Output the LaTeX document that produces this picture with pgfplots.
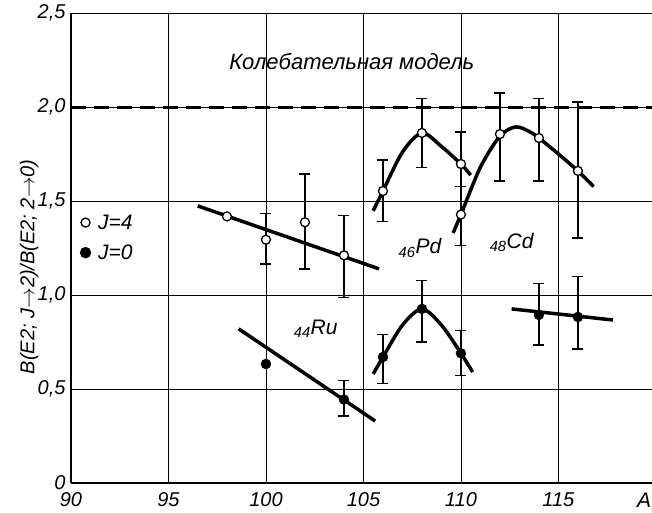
\documentclass[border=0pt]{standalone}
\usepackage{pgfplots}
\pgfplotsset{compat=1.18}
\usepackage{fontspec}
\setmainfont{Liberation Sans}

\pgfplotstableread{
x y up down
100 1.294 0.139 0.129
102 1.387 0.257 0.248
104 1.211 0.212 0.226
106 1.553 0.165 0.161
108 1.862 0.185 0.182
110 1.697 0.170 0.120
110 1.428 0.149 0.165
112 1.856 0.218 0.250
114 1.835 0.212 0.229
116 1.660 0.366 0.356
}\jfour
\pgfplotstableread{
x y up down
104 0.444 0.100 0.088
106 0.670 0.120 0.140
108 0.926 0.151 0.176
110 0.690 0.120 0.120
114 0.894 0.166 0.160
116 0.883 0.217 0.170
}\jzero

\begin{document}
\begin{tikzpicture}
\begin{axis}[
  scale only axis,
  width=581pt, height=470pt,
  xmin=90, xmax=119.8,
  ymin=0, ymax=2.5,
  axis lines=left,
  axis line style={-, line width=1.8pt},
  xtick={90,95,100,105,110,115},
  xticklabels={90,95,100,105,110,115},
  ytick={0,0.5,1,1.5,2,2.5},
  yticklabels={0,{0,5},{1,0},{1,5},{2,0},{2,5}},
  major tick length=0pt,
  grid=major,
  grid style={black, line width=0.7pt},
  tick label style={font=\fontsize{20}{24}\selectfont\itshape},
  xticklabel style={yshift=-6pt},
  yticklabel style={xshift=-2pt},
  ylabel={\itshape B(E2; J$\to$2)/B(E2; 2$\to$0)},
  ylabel style={font=\fontsize{20}{24}\selectfont, at={(axis description cs:-0.072,0.46)}, anchor=center},
  clip=false,
  legend style={draw=none, fill=none, at={(axis cs:90.3,1.45)}, anchor=north west,
    font=\fontsize{21}{24}\selectfont\itshape, row sep=10pt},
  legend cell align=left,
  error bars/error bar style={line width=1.3pt},
  error bars/error mark options={rotate=90, line width=1.3pt, mark size=5.5pt, black},
]
\addlegendimage{only marks, mark=*, mark size=4.5pt, mark options={line width=1.3pt, draw=black, fill=white}}
\addlegendentry{\hspace{5pt}J=4}
\addlegendimage{only marks, mark=*, mark size=5.5pt}
\addlegendentry{\hspace{5pt}J=0}

% vibrational model
\addplot[black, line width=3pt, dash pattern=on 15pt off 8pt, forget plot]
  coordinates {(90,2.0) (119.8,2.0)};

% fitted curves J=4
\addplot[black, line width=3.5pt, forget plot] coordinates {(96.5,1.474) (105.8,1.139)};
\addplot[black, line width=3.5pt, smooth, forget plot] coordinates {
  (105.5,1.448) (106,1.553) (107,1.76) (108,1.862) (109,1.79) (110,1.697) (110.5,1.638)};
\addplot[black, line width=3.5pt, smooth, forget plot] coordinates {
  (109.6,1.33) (110,1.428) (111,1.68) (112,1.845) (112.8,1.894) (113.5,1.87) (114,1.835) (115,1.75) (116,1.66) (116.8,1.577)};

% fitted curves J=0
\addplot[black, line width=3.5pt, forget plot] coordinates {(98.6,0.82) (105.6,0.33)};
\addplot[black, line width=3.5pt, smooth, forget plot] coordinates {
  (105.5,0.58) (106,0.67) (107,0.84) (108,0.926) (109,0.84) (110,0.69) (110.6,0.59)};
\addplot[black, line width=3.5pt, forget plot] coordinates {(112.6,0.926) (117.8,0.867)};

% error bars
\addplot[only marks, mark=none, forget plot,
  error bars/.cd, y dir=both, y explicit]
  table[x=x, y=y, y error plus=up, y error minus=down] {\jfour};
\addplot[only marks, mark=none, forget plot,
  error bars/.cd, y dir=both, y explicit]
  table[x=x, y=y, y error plus=up, y error minus=down] {\jzero};

% J=4 points
\addplot[only marks, mark=*, mark size=4.5pt, mark options={line width=1.3pt, draw=black, fill=white}, forget plot]
  coordinates {(98,1.418)};
\addplot[only marks, mark=*, mark size=4.5pt, mark options={line width=1.3pt, draw=black, fill=white}, forget plot]
  table[x=x, y=y] {\jfour};

% J=0 points
\addplot[only marks, mark=*, mark size=5pt, black, forget plot] coordinates {(100,0.633)};
\addplot[only marks, mark=*, mark size=5pt, black, forget plot] table[x=x, y=y] {\jzero};

\node[font=\fontsize{22}{24}\selectfont\itshape] at (axis cs:104.4,2.24) {Колебательная модель};
\node[font=\fontsize{21}{24}\selectfont\itshape] at (axis cs:107.9,1.25) {\textsubscript{46}Pd};
\node[font=\fontsize{21}{24}\selectfont\itshape] at (axis cs:112.6,1.28) {\textsubscript{48}Cd};
\node[font=\fontsize{21}{24}\selectfont\itshape] at (axis cs:102.55,0.82) {\textsubscript{44}Ru};
\node[font=\fontsize{21}{24}\selectfont\itshape] at (axis cs:119.4,-0.09) {A};
\end{axis}
\pgfresetboundingbox
\path[use as bounding box] (-71pt,-29pt) rectangle (581pt,483pt);
\end{tikzpicture}
\end{document}
